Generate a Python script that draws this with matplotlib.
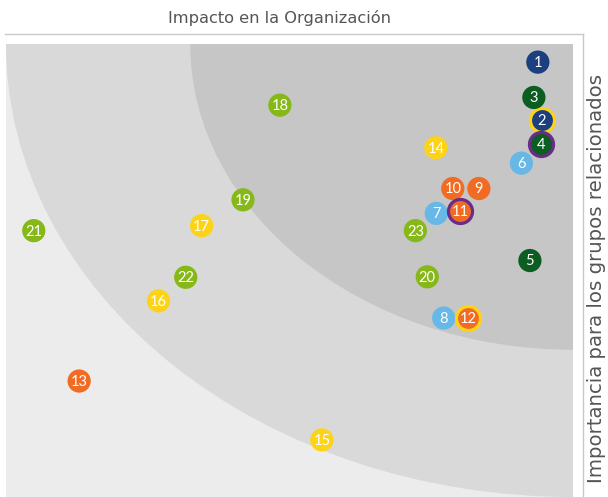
import matplotlib
matplotlib.use("Agg")
import matplotlib.pyplot as plt
from matplotlib.patches import Ellipse
from matplotlib.lines import Line2D

plt.rcParams['font.family'] = ['Lato', 'DejaVu Sans']

# materiality matrix: x = impacto en la organizacion, y = importancia grupos
labels = [str(i) for i in range(1, 24)]
xs = [9.38, 9.45, 9.31, 9.43, 9.24, 9.09, 7.59, 7.72, 8.34, 7.88, 8.01, 8.15,
      1.29, 7.58, 5.57, 2.69, 3.45, 4.83, 4.18, 7.43, 0.49, 3.17, 7.22]
ys = [9.60, 8.32, 8.82, 7.79, 5.22, 7.37, 6.26, 3.95, 6.81, 6.81, 6.31, 3.95,
      2.56, 7.71, 1.26, 4.33, 5.99, 8.65, 6.56, 4.86, 5.88, 4.85, 5.88]
groups = ['azul', 'azul', 'verde', 'verde', 'verde', 'celeste', 'celeste', 'celeste',
          'naranja', 'naranja', 'naranja', 'naranja', 'naranja',
          'amarillo', 'amarillo', 'amarillo', 'amarillo',
          'lima', 'lima', 'lima', 'lima', 'lima', 'lima']
rings = {'2': 'amarillo', '4': 'morado', '11': 'morado', '12': 'amarillo'}

colores = {'azul': '#1b3f7f', 'verde': '#0b5d22', 'celeste': '#67b8e6',
           'naranja': '#f26b22', 'amarillo': '#fdd318', 'lima': '#85b818',
           'morado': '#6b2b88'}

# radios de las zonas (fraccion del eje)
zonas = [1.0, 0.675]
grises = ['#d9d9d9', '#c6c6c6']

fig = plt.figure(figsize=(6.08, 4.97), dpi=100)
W, H = 608.0, 497.0
ax = fig.add_axes([6 / W, 0, 567 / W, 453 / H])
ax.set_xlim(0, 10)
ax.set_ylim(0, 10)
ax.set_facecolor('#ececec')
for s in ax.spines.values():
    s.set_visible(False)
ax.set_xticks([])
ax.set_yticks([])

for r, g in zip(zonas, grises):
    ax.add_patch(Ellipse((10, 10), 2 * r * 10, 2 * r * 10, facecolor=g,
                         edgecolor='none', zorder=1))

for lab, x, y, g in zip(labels, xs, ys, groups):
    if lab in rings:
        ax.scatter(x, y, s=300, color=colores[g], edgecolor=colores[rings[lab]],
                   linewidth=2.3, zorder=3)
    else:
        ax.scatter(x, y, s=280, color=colores[g], edgecolor='none', zorder=3)
    ax.text(x, y - 0.02, lab, color='white', fontsize=10.5, ha='center',
            va='center', zorder=4)

# marco
fig.add_artist(Line2D([5 / W, 583 / W], [(H - 34) / H, (H - 34) / H],
                      color='#c9c9c9', lw=1))
fig.add_artist(Line2D([583 / W, 583 / W], [(H - 34) / H, 0],
                      color='#c9c9c9', lw=1))

fig.text(279 / W, (H - 18) / H, 'Impacto en la Organización', ha='center',
         va='center', fontsize=11.7, color='#555555', family='DejaVu Sans')
fig.text(597 / W, (H - 278) / H, 'Importancia para los grupos relacionados',
         ha='center', va='center', rotation=90, fontsize=14.2, color='#555555',
         family='DejaVu Sans')

fig.savefig('out.png', dpi=100)
